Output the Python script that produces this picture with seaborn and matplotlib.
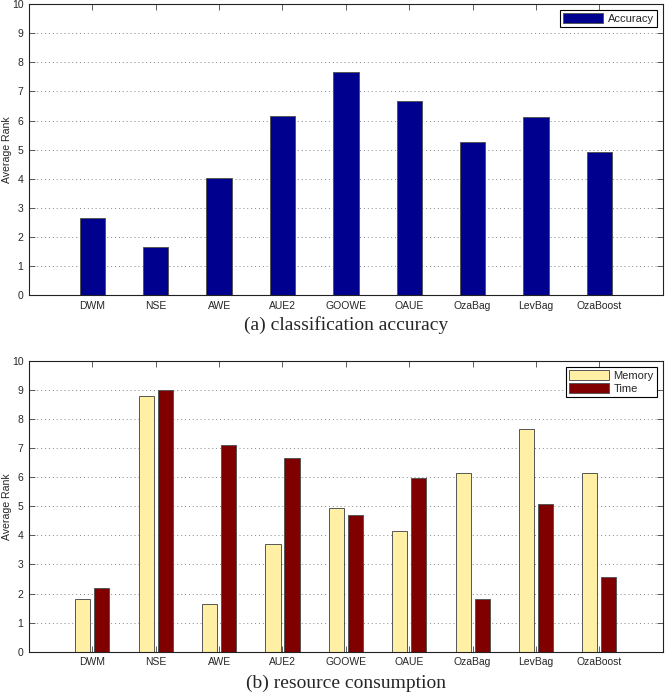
import matplotlib
matplotlib.use("Agg")
import matplotlib.pyplot as plt
import pandas as pd
import seaborn as sns

# average ranks
methods = ["DWM", "NSE", "AWE", "AUE2", "GOOWE", "OAUE", "OzaBag", "LevBag", "OzaBoost"]
accuracy = [2.66, 1.65, 4.01, 6.16, 7.67, 6.68, 5.27, 6.12, 4.91]
memory = [1.80, 8.81, 1.65, 3.69, 4.95, 4.15, 6.16, 7.66, 6.16]
time = [2.20, 9.01, 7.11, 6.66, 4.71, 5.96, 1.80, 5.07, 2.56]

sns.set_style("ticks")
plt.rcParams['font.family'] = ['Liberation Sans', 'DejaVu Sans']

df_acc = pd.DataFrame({"method": methods, "rank": accuracy, "series": "Accuracy"})
df_res = pd.concat([
    pd.DataFrame({"method": methods, "rank": memory, "series": "Memory"}),
    pd.DataFrame({"method": methods, "rank": time, "series": "Time"}),
])

fig = plt.figure(figsize=(6.65, 6.95), dpi=100)
ax1 = fig.add_axes([0.0436, 0.5755, 0.953, 0.4185])
ax2 = fig.add_axes([0.0436, 0.0623, 0.953, 0.4183])

sns.barplot(data=df_acc, x="method", y="rank", hue="series", ax=ax1,
            palette={"Accuracy": "#00008F"}, width=0.4, saturation=1,
            edgecolor="#555555", linewidth=0.7)
sns.barplot(data=df_res, x="method", y="rank", hue="series", ax=ax2,
            palette={"Memory": "#FFF0A6", "Time": "#800000"}, width=0.6, gap=0.2,
            saturation=1, edgecolor="#555555", linewidth=0.7)


def style(ax):
    ax.set_xlim(-1, 9)
    ax.set_ylim(0, 10)
    ax.set_yticks(range(0, 11))
    ax.set_xlabel("")
    ax.set_ylabel("Average Rank", fontsize=7.6)
    ax.yaxis.set_label_coords(-0.0275, 0.5)
    ax.yaxis.grid(True, linestyle=(0, (1, 3)), color="#888888", linewidth=0.7)
    ax.xaxis.grid(False)
    ax.set_axisbelow(True)
    ax.tick_params(direction="in", top=True, right=True, length=4, width=0.6,
                   color="#444444", labelsize=7.5, pad=4)
    for s in ax.spines.values():
        s.set_visible(True)
        s.set_color("#222222")
        s.set_linewidth(0.8)
    leg = ax.legend(loc="upper right", fontsize=8, fancybox=False, framealpha=1,
                    edgecolor="black", handlelength=3.6, handleheight=1.0,
                    borderpad=0.3, labelspacing=0.2, handletextpad=0.4,
                    borderaxespad=0.5)
    leg.get_frame().set_linewidth(0.8)
    leg.set_title(None)


style(ax1)
style(ax2)

fig.text(0.52, 0.532, "(a) classification accuracy", ha="center", va="center",
         fontsize=14, family=["Liberation Serif", "DejaVu Serif"])
fig.text(0.52, 0.017, "(b) resource consumption", ha="center", va="center",
         fontsize=14, family=["Liberation Serif", "DejaVu Serif"])

fig.savefig("out.png", dpi=100)
